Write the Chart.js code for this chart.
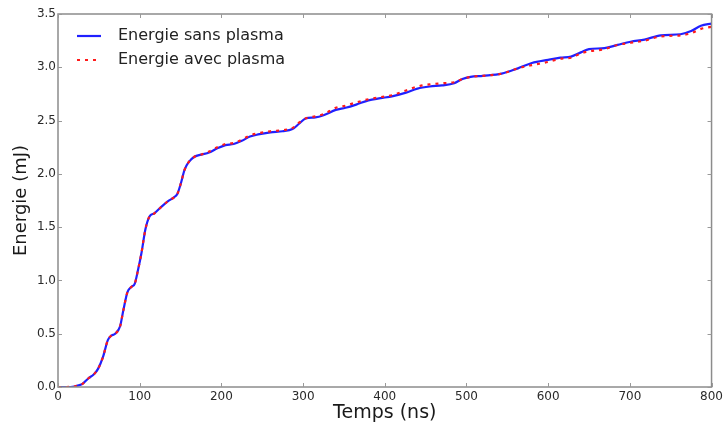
<!DOCTYPE html>
<html>
<head>
<meta charset="utf-8">
<script src="https://cdn.jsdelivr.net/npm/chart.js@4/dist/chart.umd.min.js"></script>
<style>
html,body{margin:0;padding:0;background:#fff;}
#wrap{width:726px;height:425px;position:relative;}
</style>
</head>
<body>
<div id="wrap"><canvas id="c" width="726" height="425"></canvas></div>
<script>
const times = [0,10,20,25,30,37,44,49,55,61,65,70,76,80,85,90,94,98,102,107,112,118,125,134,142,146,150,155,160,167,175,185,195,205,215,225,235,245,260,275,287,295,303,315,325,340,352,365,380,395,410,425,440,455,470,485,495,505,520,543,563,580,600,615,628,640,650,669,685,701,718,738,762,775,787,800];
const energieSans = [0,0,0.005,0.015,0.03,0.08,0.12,0.17,0.28,0.44,0.48,0.50,0.57,0.72,0.89,0.94,0.97,1.10,1.25,1.48,1.60,1.63,1.68,1.74,1.78,1.81,1.90,2.04,2.11,2.16,2.18,2.20,2.24,2.27,2.28,2.31,2.35,2.37,2.39,2.40,2.42,2.47,2.52,2.53,2.55,2.60,2.62,2.65,2.69,2.71,2.73,2.76,2.80,2.82,2.83,2.85,2.89,2.91,2.92,2.94,2.99,3.04,3.07,3.09,3.10,3.14,3.17,3.18,3.21,3.24,3.26,3.30,3.31,3.34,3.39,3.41];
const energieAvec = [0,0,0.005,0.015,0.03,0.08,0.12,0.17,0.28,0.44,0.48,0.50,0.57,0.72,0.89,0.94,0.97,1.10,1.25,1.48,1.60,1.63,1.68,1.74,1.78,1.81,1.90,2.04,2.11,2.16,2.18,2.21,2.25,2.28,2.29,2.32,2.36,2.38,2.40,2.41,2.43,2.48,2.52,2.54,2.56,2.62,2.64,2.67,2.70,2.72,2.74,2.78,2.82,2.84,2.85,2.86,2.89,2.91,2.92,2.94,2.99,3.02,3.05,3.08,3.09,3.13,3.15,3.17,3.21,3.23,3.25,3.29,3.30,3.32,3.36,3.38];
const seriesLabels = ['Energie sans plasma','Energie avec plasma'];
const xTickValues = [0,100,200,300,400,500,600,700,800];
const yTickLabels = ['0.0','0.5','1.0','1.5','2.0','2.5','3.0','3.5'];
const xTitle = 'Temps (ns)';
const yTitle = 'Energie (mJ)';

const FONT = "'DejaVu Sans', sans-serif";

const framePlugin = {
  id: 'frame',
  afterDraw(chart) {
    const {ctx, chartArea: a, scales: {x, y}} = chart;
    ctx.save();
    ctx.strokeStyle = '#8c8c8c';
    ctx.lineWidth = 1.5;
    ctx.strokeRect(a.left, a.top, a.right - a.left, a.bottom - a.top);
    ctx.lineWidth = 1;
    ctx.strokeStyle = '#999';
    ctx.beginPath();
    x.ticks.forEach(t => {
      const px = Math.round(x.getPixelForValue(t.value)) + 0.5;
      ctx.moveTo(px, a.bottom); ctx.lineTo(px, a.bottom - 4);
      ctx.moveTo(px, a.top); ctx.lineTo(px, a.top + 4);
    });
    y.ticks.forEach(t => {
      const py = Math.round(y.getPixelForValue(t.value)) + 0.5;
      ctx.moveTo(a.left, py); ctx.lineTo(a.left + 4, py);
      ctx.moveTo(a.right, py); ctx.lineTo(a.right - 4, py);
    });
    ctx.stroke();
    ctx.restore();
  }
};

const legendPlugin = {
  id: 'innerLegend',
  afterDraw(chart) {
    const {ctx, chartArea: a} = chart;
    ctx.save();
    ctx.font = '16px ' + FONT;
    ctx.textBaseline = 'middle';
    chart.data.datasets.forEach((ds, i) => {
      const yy = a.top + 22 + i * 24;
      ctx.beginPath();
      ctx.strokeStyle = ds.borderColor;
      ctx.lineWidth = ds.borderWidth;
      ctx.setLineDash(ds.borderDash || []);
      ctx.moveTo(a.left + 19, yy);
      ctx.lineTo(a.left + 43, yy);
      ctx.stroke();
      ctx.setLineDash([]);
      ctx.fillStyle = '#222';
      ctx.fillText(ds.label, a.left + 60, yy);
    });
    ctx.restore();
  }
};

new Chart(document.getElementById('c'), {
  type: 'line',
  data: {
    datasets: [
      {
        label: seriesLabels[0],
        data: times.map((t, i) => ({x: t, y: energieSans[i]})),
        borderColor: '#2020ff',
        borderWidth: 2.2,
        pointRadius: 0,
        cubicInterpolationMode: 'monotone',
        fill: false,
        order: 2
      },
      {
        label: seriesLabels[1],
        data: times.map((t, i) => ({x: t, y: energieAvec[i]})),
        borderColor: '#ff1a1a',
        borderWidth: 2.2,
        borderDash: [3, 5],
        pointRadius: 0,
        cubicInterpolationMode: 'monotone',
        fill: false,
        order: 1
      }
    ]
  },
  options: {
    responsive: false,
    animation: false,
    devicePixelRatio: 1,
    layout: {padding: {top: 14, right: 12, left: 0, bottom: 0}},
    plugins: {legend: {display: false}, tooltip: {enabled: false}},
    scales: {
      x: {
        type: 'linear',
        min: 0, max: 800,
        afterFit(s) { s.height = 38; },
        afterBuildTicks(s) { s.ticks = xTickValues.map(v => ({value: v})); },
        grid: {display: false, drawTicks: false},
        border: {display: false},
        ticks: {
          padding: 3,
          maxRotation: 0,
          autoSkip: false,
          color: '#2a2a2a',
          font: {family: FONT, size: 12},
          callback: v => String(v)
        },
        title: {
          display: true, text: xTitle, color: '#1a1a1a',
          font: {family: FONT, size: 19},
          padding: {top: 0, bottom: 1}
        }
      },
      y: {
        type: 'linear',
        min: 0, max: 3.5,
        afterFit(s) { s.width = 58; },
        afterBuildTicks(s) { s.ticks = yTickLabels.map(l => ({value: parseFloat(l)})); },
        grid: {display: false, drawTicks: false},
        border: {display: false},
        ticks: {
          padding: 2,
          autoSkip: false,
          color: '#2a2a2a',
          font: {family: FONT, size: 12},
          callback: (v) => yTickLabels.find(l => parseFloat(l) === v) || v.toFixed(1)
        },
        title: {
          display: true, text: yTitle, color: '#1a1a1a',
          font: {family: FONT, size: 18},
          padding: {top: 11, bottom: 0}
        }
      }
    }
  },
  plugins: [framePlugin, legendPlugin]
});
</script>
</body>
</html>
